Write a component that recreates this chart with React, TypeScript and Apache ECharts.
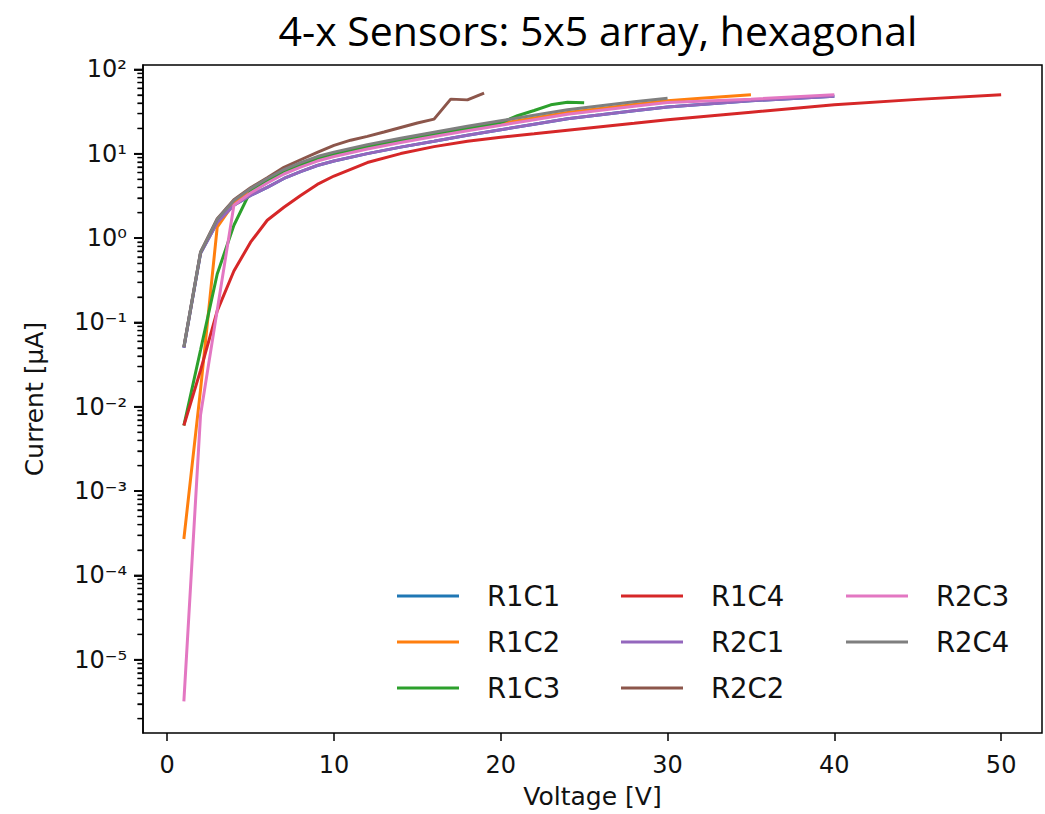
import React, { useEffect, useRef } from 'react';
import * as echarts from 'echarts';

const seriesNames = ['R1C1', 'R1C2', 'R1C3', 'R1C4', 'R2C1', 'R2C2', 'R2C3', 'R2C4'];
const seriesColors = ['#1f77b4', '#ff7f0e', '#2ca02c', '#d62728', '#9467bd', '#8c564b', '#e377c2', '#7f7f7f'];

// [voltage V, current µA]
const r1c1 = [[1, 0.05], [2, 0.66], [3, 1.53], [4, 2.45], [5, 3.21], [6, 3.99], [7, 5.1], [8, 6.16], [9, 7.26], [10, 8.2], [12, 10.05], [14, 12.0], [16, 14.1], [18, 16.6], [20, 19.3], [22, 22.4], [24, 26.0], [26, 29.0], [28, 32.4], [30, 35.8], [35, 42.5], [40, 48.0]];
const r1c2 = [[1, 2.7e-4], [2, 0.016], [3, 1.35], [4, 2.6], [5, 3.6], [6, 4.74], [7, 6.05], [8, 7.31], [9, 8.61], [10, 9.73], [12, 11.9], [14, 14.2], [16, 16.8], [18, 19.7], [20, 22.9], [22, 26.6], [24, 30.9], [26, 34.5], [28, 38.4], [30, 42.5], [32, 45.5], [35, 50.0]];
const r1c3 = [[1, 0.006], [2, 0.047], [3, 0.375], [4, 1.42], [5, 3.6], [6, 4.83], [7, 6.16], [8, 7.45], [9, 8.78], [10, 9.92], [12, 12.2], [14, 14.5], [16, 17.1], [18, 20.1], [20, 23.4], [21, 28.3], [22, 32.6], [23, 38.1], [24, 40.8], [25, 40.2]];
const r1c4 = [[1, 0.006], [2, 0.027], [3, 0.137], [4, 0.407], [5, 0.895], [6, 1.63], [7, 2.32], [8, 3.21], [9, 4.33], [10, 5.45], [12, 7.87], [14, 10.06], [16, 12.16], [18, 14.12], [20, 15.75], [22, 17.3], [24, 19.05], [26, 20.95], [28, 23.0], [30, 25.3], [32, 27.5], [35, 31.1], [40, 38.1], [45, 44.2], [50, 50.0]];
const r2c1 = [[1, 0.05], [2, 0.66], [3, 1.53], [4, 2.45], [5, 3.21], [6, 3.99], [7, 5.1], [8, 6.16], [9, 7.26], [10, 8.2], [12, 10.05], [14, 12.0], [16, 14.1], [18, 16.6], [20, 19.3], [22, 22.4], [24, 26.0], [26, 29.0], [28, 32.4], [30, 35.8], [35, 42.5], [40, 48.0]];
const r2c2 = [[1, 0.051], [2, 0.68], [3, 1.7], [4, 2.85], [5, 3.95], [6, 5.2], [7, 6.9], [8, 8.5], [9, 10.4], [10, 12.6], [11, 14.5], [12, 16.1], [13, 18.1], [14, 20.5], [15, 23.2], [16, 25.8], [17, 44.5], [18, 43.6], [19, 52.4]];
const r2c3 = [[1, 3.2e-6], [2, 0.008], [3, 0.14], [4, 2.45], [5, 3.43], [6, 4.51], [7, 5.76], [8, 6.96], [9, 8.2], [10, 9.27], [12, 11.4], [14, 13.6], [16, 16.0], [18, 18.8], [20, 21.8], [22, 25.3], [24, 29.4], [26, 32.8], [28, 36.6], [30, 40.5], [35, 44.5], [40, 50.0]];
const r2c4 = [[1, 0.051], [2, 0.68], [3, 1.67], [4, 2.8], [5, 3.88], [6, 5.1], [7, 6.51], [8, 7.87], [9, 9.27], [10, 10.47], [12, 12.84], [14, 15.32], [16, 18.04], [18, 21.23], [20, 24.66], [22, 28.64], [24, 33.25], [26, 37.09], [28, 41.33], [30, 45.71]];

const seriesData = [r1c1, r1c2, r1c3, r1c4, r2c1, r2c2, r2c3, r2c4];

const xTicks = [0, 10, 20, 30, 40, 50];
const yTicks = [1e-5, 1e-4, 1e-3, 1e-2, 1e-1, 1, 10, 100];
const xMin = -1.45;
const xMax = 52.45;
const yMin = 1.352e-6;
const yMax = 113.0;

const titleText = '4-x Sensors: 5x5 array, hexagonal';
const xName = 'Voltage [V]';
const yName = 'Current [μA]';

const SUP: Record<string, string> = { '-': '⁻', '0': '⁰', '1': '¹', '2': '²', '3': '³', '4': '⁴', '5': '⁵', '6': '⁶', '7': '⁷', '8': '⁸', '9': '⁹' };

// minor log ticks (2..9 x 10^n) inside the axis range
function minorTicks(): number[] {
  const out: number[] = [];
  for (let e = -6; e <= 2; e++) {
    for (let k = 2; k <= 9; k++) {
      const v = k * Math.pow(10, e);
      if (v >= yMin && v <= yMax) out.push(v);
    }
  }
  return out;
}

const FONT = 'DejaVu Sans';
const TEXT = '#111';

export default function App() {
  const ref = useRef<HTMLDivElement>(null);
  useEffect(() => {
    const chart = echarts.init(ref.current!, undefined, { renderer: 'svg' });
    const legendBase = {
      orient: 'vertical',
      icon: 'rect',
      itemWidth: 62,
      itemHeight: 3,
      itemGap: 16,
      top: 581,
      padding: 0,
      selectedMode: false,
      textStyle: { fontFamily: FONT, fontSize: 27.5, color: TEXT, lineHeight: 30, padding: [0, 0, 0, 23] },
    };
    chart.setOption({
      animation: false,
      backgroundColor: '#fff',
      graphic: [
        {
          type: 'text',
          x: 598,
          y: 30,
          style: { text: titleText, font: '41px "Open Sans"', fill: '#000', textAlign: 'center', textVerticalAlign: 'middle' },
        },
      ],
      legend: [
        { ...legendBase, left: 397, data: ['R1C1', 'R1C2', 'R1C3'] },
        { ...legendBase, left: 621, data: ['R1C4', 'R2C1', 'R2C2'] },
        { ...legendBase, left: 846, data: ['R2C3', 'R2C4'] },
      ],
      grid: { left: 143, top: 65, width: 899, height: 671, show: true, borderColor: '#000', borderWidth: 1.5, backgroundColor: 'transparent' },
      xAxis: {
        type: 'value',
        min: xMin,
        max: xMax,
        name: xName,
        nameLocation: 'middle',
        nameGap: 51,
        nameMoveOverlap: false,
        nameTextStyle: { fontFamily: FONT, fontSize: 25, color: TEXT },
        axisLine: { show: false, onZero: false },
        splitLine: { show: false },
        axisTick: { show: true, length: 8, customValues: xTicks, lineStyle: { color: '#000', width: 1.5 } },
        axisLabel: { customValues: xTicks, margin: 20, fontFamily: FONT, fontSize: 24, color: TEXT },
      },
      yAxis: [
        {
          type: 'log',
          logBase: 10,
          min: yMin,
          max: yMax,
          position: 'left',
          name: yName,
          nameLocation: 'middle',
          nameGap: 96,
          nameMoveOverlap: false,
          nameRotate: 90,
          nameTextStyle: { fontFamily: FONT, fontSize: 25, color: TEXT },
          axisLine: { show: true, onZero: false, lineStyle: { color: '#000', width: 1.5 } },
          splitLine: { show: false },
          axisTick: { show: true, inside: false, length: 9, customValues: yTicks, lineStyle: { color: '#000', width: 1.8 } },
          axisLabel: {
            customValues: yTicks,
            margin: 16,
            fontFamily: FONT,
            fontSize: 24,
            color: TEXT,
            formatter: (v: number) => {
              const e = String(Math.round(Math.log10(v)));
              return '10' + e.split('').map((c) => SUP[c] || c).join('');
            },
          },
        },
        {
          type: 'log',
          logBase: 10,
          min: yMin,
          max: yMax,
          position: 'left',
          axisLine: { show: false, onZero: false },
          splitLine: { show: false },
          axisLabel: { show: false },
          axisTick: { show: true, inside: false, length: 5.5, customValues: minorTicks(), lineStyle: { color: '#000', width: 1.3 } },
        },
      ],
      series: [
        ...seriesNames.map((name, i) => ({
          name,
          type: 'line',
          yAxisIndex: 0,
          data: seriesData[i],
          showSymbol: false,
          symbol: 'none',
          color: seriesColors[i],
          lineStyle: { width: 3, color: seriesColors[i] },
          emphasis: { disabled: true },
        })),
        {
          name: 'majorTicks',
          type: 'scatter',
          yAxisIndex: 0,
          silent: true,
          clip: false,
          symbol: 'rect',
          symbolSize: [9, 1.8],
          symbolOffset: [-4.5, 0],
          itemStyle: { color: '#000' },
          data: yTicks.map((v) => [xMin, v]),
        },
        {
          name: 'minorTicks',
          type: 'scatter',
          yAxisIndex: 0,
          silent: true,
          clip: false,
          symbol: 'rect',
          symbolSize: [5.5, 1.3],
          symbolOffset: [-2.75, 0],
          itemStyle: { color: '#000' },
          data: minorTicks().map((v) => [xMin, v]),
        },
      ],
    });
    return () => chart.dispose();
  }, []);
  return <div ref={ref} style={{ position: 'absolute', left: 0, top: 0, width: 1045, height: 814, background: '#fff' }} />;
}
